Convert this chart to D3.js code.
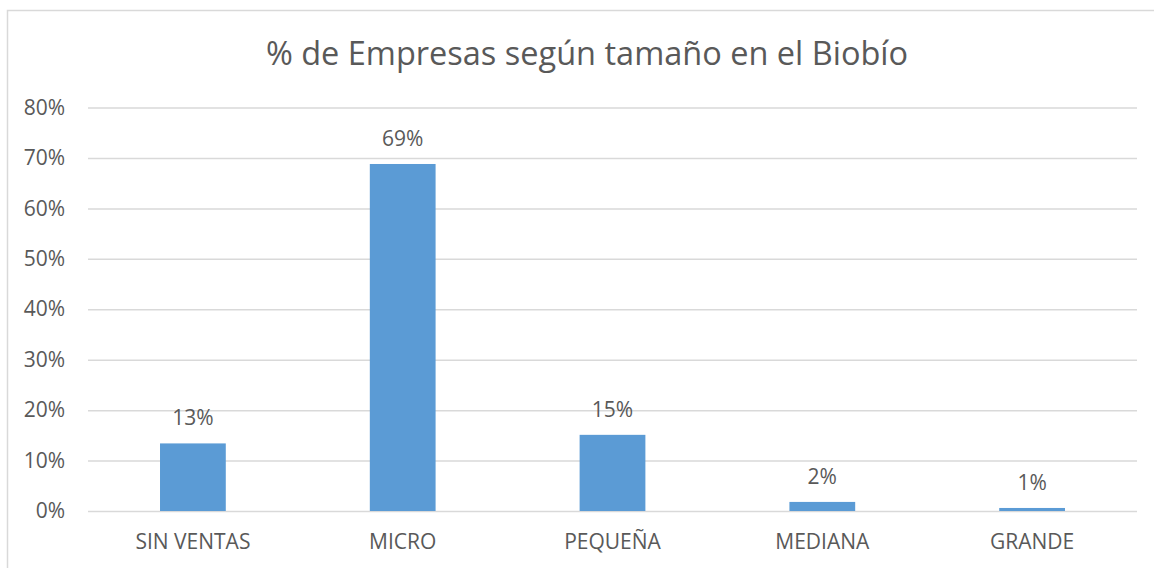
<!DOCTYPE html>
<html>
<head>
<meta charset="utf-8">
<script src="https://cdn.jsdelivr.net/npm/d3@7"></script>
<style>
  body { margin: 0; background: #fff; }
  svg text { font-family: "Open Sans", sans-serif; fill: #595959; }
</style>
</head>
<body>
<div id="chart"></div>
<script>
// data
var categories = ["SIN VENTAS", "MICRO", "PEQUEÑA", "MEDIANA", "GRANDE"];
var shares = [0.134, 0.688, 0.151, 0.018, 0.006];
var shareLabels = ["13%", "69%", "15%", "2%", "1%"];
var yTicks = [0, 0.1, 0.2, 0.3, 0.4, 0.5, 0.6, 0.7, 0.8];
var chartTitle = "% de Empresas según tamaño en el Biobío";

var svgWidth = 1154;
var svgHeight = 568;
var plot = { left: 88, right: 1137, top: 107.5, bottom: 511 };

var svg = d3.select("#chart")
  .append("svg")
  .attr("width", svgWidth)
  .attr("height", svgHeight);

// chart area border
svg.append("rect")
  .attr("x", 7.5)
  .attr("y", 10.5)
  .attr("width", svgWidth)
  .attr("height", svgHeight)
  .attr("fill", "none")
  .attr("stroke", "#d9d9d9")
  .attr("stroke-width", 1.5);

var data = categories.map(function (c, i) {
  return { cat: c, value: shares[i], label: shareLabels[i] };
});

var xBand = d3.scaleBand()
  .domain(categories)
  .range([plot.left, plot.right])
  .paddingInner(0.6865)
  .paddingOuter(0.6865 / 2);

var yLinear = d3.scaleLinear()
  .domain([0, 0.8])
  .range([plot.bottom, plot.top]);

// gridlines + y tick labels
var leftAxis = d3.axisLeft(yLinear)
  .tickValues(yTicks)
  .tickFormat(d3.format(".0%"))
  .tickSize(-(plot.right - plot.left))
  .tickPadding(23);

var yAxis = svg.append("g")
  .attr("transform", `translate(${plot.left}, 0)`)
  .call(leftAxis);
yAxis.select(".domain").remove();
yAxis.selectAll(".tick line")
  .attr("stroke", "#d9d9d9")
  .attr("stroke-width", 1.5);
yAxis.selectAll(".tick text")
  .attr("font-size", 21)
  .attr("font-family", "Open Sans")
  .attr("fill", "#595959");

// bars
svg.selectAll(".bar")
  .data(data)
  .enter()
  .append("rect")
  .attr("class", "bar")
  .attr("x", d => xBand(d.cat))
  .attr("y", d => yLinear(d.value))
  .attr("width", xBand.bandwidth())
  .attr("height", d => plot.bottom - yLinear(d.value))
  .attr("fill", "#5b9bd5");

// data labels
svg.selectAll(".val")
  .data(data)
  .enter()
  .append("text")
  .attr("class", "val")
  .attr("x", d => xBand(d.cat) + xBand.bandwidth() / 2)
  .attr("y", d => yLinear(d.value) - 18)
  .attr("text-anchor", "middle")
  .attr("font-size", 21)
  .text(d => d.label);

// x axis categories
var bottomAxis = d3.axisBottom(xBand).tickSize(0).tickPadding(23);
var xAxis = svg.append("g")
  .attr("transform", `translate(0, ${plot.bottom})`)
  .call(bottomAxis);
xAxis.select(".domain").remove();
xAxis.selectAll(".tick text")
  .attr("font-size", 21)
  .attr("font-family", "Open Sans")
  .attr("fill", "#595959");

// title
svg.append("text")
  .attr("x", 587)
  .attr("y", 65)
  .attr("text-anchor", "middle")
  .attr("font-size", 32.5)
  .text(chartTitle);
</script>
</body>
</html>
